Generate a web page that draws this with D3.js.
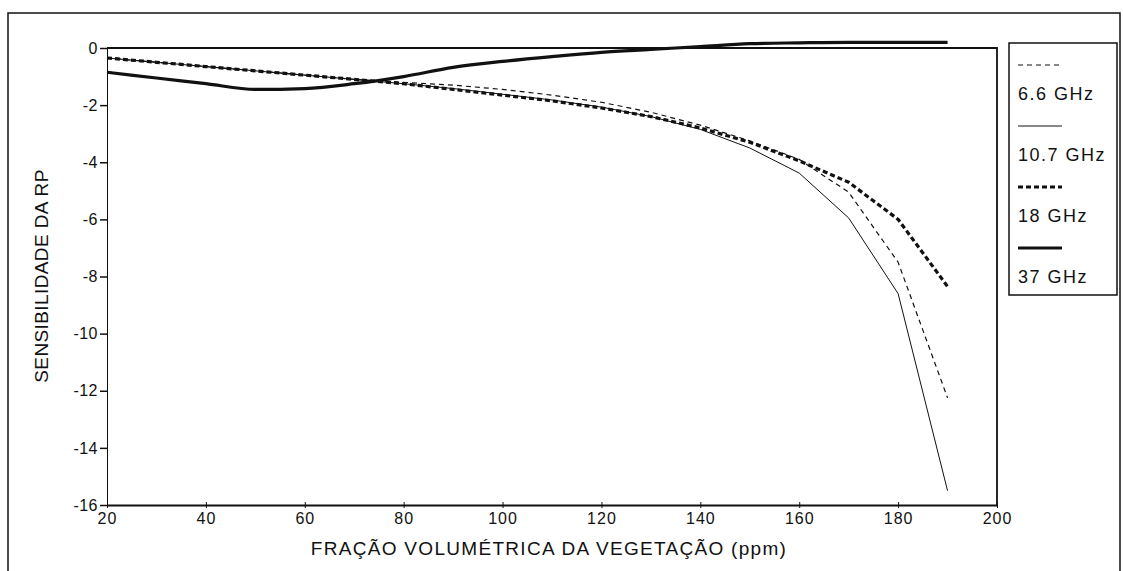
<!DOCTYPE html>
<html>
<head>
<meta charset="utf-8">
<script src="https://cdn.jsdelivr.net/npm/d3@7"></script>
<style>
  body { margin: 0; background: #fff; }
  text { font-family: "Liberation Sans", Arial, sans-serif; fill: #111; }
</style>
</head>
<body>
<div id="chart"></div>
<script>
// data
var xValues = [20, 30, 40, 50, 60, 70, 80, 90, 100, 110, 120, 130, 140, 150, 160, 170, 180, 190];
var ghz66  = [-0.35, -0.5, -0.65, -0.8, -0.95, -1.1, -1.2, -1.3, -1.45, -1.65, -1.9, -2.25, -2.7, -3.25, -3.9, -5.05, -7.5, -12.25];
var ghz107 = [-0.35, -0.5, -0.65, -0.8, -0.95, -1.1, -1.25, -1.42, -1.62, -1.82, -2.07, -2.4, -2.85, -3.5, -4.38, -5.95, -8.6, -15.5];
var ghz18  = [-0.35, -0.5, -0.65, -0.8, -0.95, -1.1, -1.25, -1.45, -1.65, -1.85, -2.1, -2.4, -2.8, -3.3, -3.95, -4.7, -6.0, -8.35];
var ghz37  = [-0.85, -1.05, -1.25, -1.45, -1.42, -1.25, -1.0, -0.68, -0.47, -0.3, -0.15, -0.05, 0.05, 0.15, 0.18, 0.2, 0.2, 0.2];
var seriesNames = ["6.6 GHz", "10.7 GHz", "18 GHz", "37 GHz"];
var xTicks = [20, 40, 60, 80, 100, 120, 140, 160, 180, 200];
var yTicks = [0, -2, -4, -6, -8, -10, -12, -14, -16];

var W = 1123, H = 571;
var margin = {top: 48, left: 107};
var width = 890, height = 457;

var svg = d3.select("#chart").append("svg")
    .attr("width", W)
    .attr("height", H);

// outer frame
svg.append("path")
    .attr("d", "M8,571 L8,13 L1120,13 L1120,571")
    .attr("fill", "none")
    .attr("stroke", "#111")
    .attr("stroke-width", 1.5);

var g = svg.append("g")
    .attr("transform", "translate(" + margin.left + "," + margin.top + ")");

var x = d3.scaleLinear().domain([20, 200]).range([0, width]);
var y = d3.scaleLinear().domain([-16, 0]).range([height, 0]);

// plot box (top and right borders)
g.append("path")
    .attr("d", "M0,0 L" + width + ",0 L" + width + "," + height)
    .attr("fill", "none")
    .attr("stroke", "#111")
    .attr("stroke-width", 1.8);

// y axis
var yAxis = g.append("g")
    .call(d3.axisLeft(y).tickValues(yTicks).tickSize(7).tickPadding(2));
yAxis.select(".domain").attr("stroke", "#111").attr("stroke-width", 1);
yAxis.selectAll(".tick line").attr("stroke", "#111").attr("stroke-width", 1.5);
yAxis.selectAll("text")
    .style("font-size", "16px")
    .style("letter-spacing", "0.5px")
    .attr("fill", "#111")
    .text(function(d) { return d === 0 ? "0" : "-" + Math.abs(d); });

// x axis
var xAxis = g.append("g")
    .attr("transform", "translate(0," + height + ")")
    .call(d3.axisBottom(x).tickValues(xTicks).tickSizeInner(3).tickSizeOuter(0).tickPadding(5));
xAxis.select(".domain").attr("stroke", "#111").attr("stroke-width", 2);
xAxis.selectAll(".tick line").attr("stroke", "#111").attr("y1", -3);
xAxis.selectAll("text")
    .style("font-size", "16px")
    .style("letter-spacing", "1px")
    .attr("fill", "#111");

// axis titles
svg.append("text")
    .attr("x", 549)
    .attr("y", 555)
    .attr("text-anchor", "middle")
    .style("font-size", "19px")
    .style("letter-spacing", "1.3px")
    .text("FRAÇÃO VOLUMÉTRICA DA VEGETAÇÃO (ppm)");

svg.append("text")
    .attr("transform", "translate(48,276) rotate(-90)")
    .attr("text-anchor", "middle")
    .style("font-size", "19px")
    .style("letter-spacing", "0.4px")
    .text("SENSIBILIDADE DA RP");

// series
var styles = [
  {w: 1.2, dash: "5,4", curve: d3.curveLinear},
  {w: 1, dash: null, curve: d3.curveLinear},
  {w: 3.2, dash: "5,3", curve: d3.curveLinear},
  {w: 3.2, dash: null, curve: d3.curveMonotoneX}
];
var allSeries = [ghz66, ghz107, ghz18, ghz37];

allSeries.forEach(function(vals, i) {
    var line = d3.line()
        .curve(styles[i].curve)
        .x(function(d) { return x(d[0]); })
        .y(function(d) { return y(d[1]); });
    g.append("path")
        .datum(xValues.map(function(v, j) { return [v, vals[j]]; }))
        .attr("fill", "none")
        .attr("stroke", "#111")
        .attr("stroke-width", styles[i].w)
        .attr("stroke-dasharray", styles[i].dash)
        .attr("d", line);
});

// legend
var legend = svg.append("g").attr("transform", "translate(1009,43)");
legend.append("rect")
    .attr("width", 108)
    .attr("height", 252)
    .attr("fill", "#fff")
    .attr("stroke", "#111")
    .attr("stroke-width", 1.5);

seriesNames.forEach(function(name, i) {
    var yy = 22 + i * 61;
    legend.append("line")
        .attr("x1", 9).attr("x2", 53)
        .attr("y1", yy).attr("y2", yy)
        .attr("stroke", "#111")
        .attr("stroke-width", styles[i].w)
        .attr("stroke-dasharray", styles[i].dash);
    legend.append("text")
        .attr("x", 9)
        .attr("y", yy + 35)
        .style("font-size", "18px")
        .style("letter-spacing", "1.5px")
        .text(name);
});
</script>
</body>
</html>
